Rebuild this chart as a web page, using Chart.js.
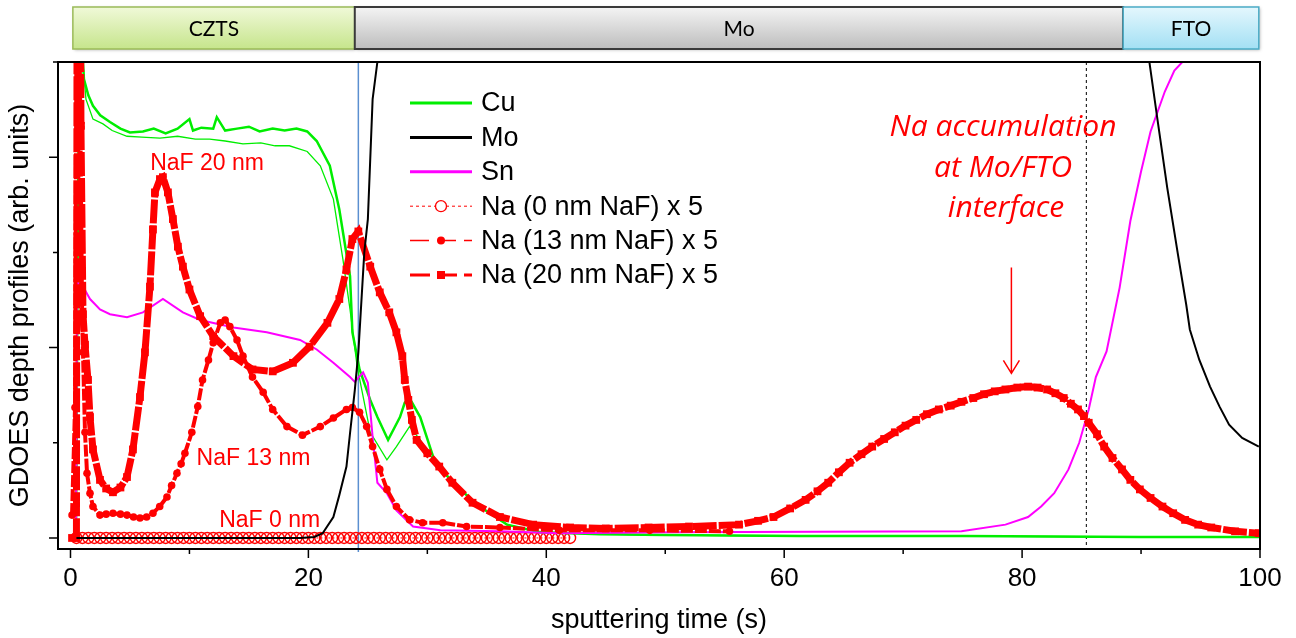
<!DOCTYPE html>
<html>
<head>
<meta charset="utf-8">
<title>GDOES depth profiles</title>
<script src="https://cdn.jsdelivr.net/npm/chart.js@4.4.1/dist/chart.umd.min.js"></script>
<style>
  html, body { margin: 0; padding: 0; background: #fff; }
  #wrap { width: 1296px; height: 638px; }
</style>
</head>
<body>
<div id="wrap"><canvas id="gdoesCanvas" width="1296" height="638"></canvas></div>
<script>
// sputtering time (s) / signal (arb. units, one y tick = 1)
var cuTime = [0.46, 0.63, 0.8, 0.88, 1.13, 1.5, 1.89, 2.5, 3.32, 4.2, 5.0, 6.09, 7.0, 8.0, 9.0, 10.0, 10.3, 11.0, 12.0, 12.3, 13.0, 14.0, 15.0, 15.9, 17.0, 18.0, 19.0, 19.9, 20.7, 21.8, 22.6, 23.5, 23.7, 24.3, 25.2, 25.8, 26.7, 27.2, 27.7, 28.1, 28.5, 29.4, 30.5, 32.1, 34.4, 36.7, 39.5, 44.5, 50, 61.3, 75, 90, 100];
var cuValues = [0, 3.56, 5.0, 5.35, 4.82, 4.65, 4.54, 4.44, 4.37, 4.3, 4.26, 4.27, 4.3, 4.25, 4.3, 4.4, 4.28, 4.31, 4.3, 4.42, 4.28, 4.3, 4.32, 4.27, 4.3, 4.28, 4.3, 4.27, 4.17, 3.91, 3.45, 2.75, 2.16, 1.77, 1.45, 1.27, 1.03, 1.15, 1.27, 1.42, 1.47, 1.27, 0.85, 0.58, 0.33, 0.14, 0.06, 0.04, 0.03, 0.02, 0.02, 0.01, 0.01];

var cu2Time = [0.46, 0.7, 0.8, 1.3, 1.89, 2.73, 3.5, 4.75, 6.0, 7.52, 9.0, 10.5, 11.7, 13.0, 14.5, 16.0, 17.2, 18.4, 19.9, 21.0, 22.1, 22.9, 23.5, 24.1, 25.2, 26.6, 27.4, 28.5, 29.4, 30.5, 32.1, 34.4, 36.7, 39.5, 44.5, 50, 61.3, 75, 90, 100];
var cu2Values = [0, 5.0, 5.35, 4.61, 4.4, 4.35, 4.28, 4.22, 4.21, 4.2, 4.22, 4.19, 4.19, 4.17, 4.14, 4.15, 4.12, 4.12, 4.06, 3.91, 3.56, 2.93, 2.4, 1.8, 1.11, 0.82, 0.96, 1.17, 1.03, 0.82, 0.58, 0.33, 0.14, 0.06, 0.04, 0.03, 0.02, 0.02, 0.01, 0.01];

var moTime = [0.5, 19.3, 20.5, 21.2, 22.1, 22.6, 23.2, 23.5, 23.9, 24.2, 24.7, 25.0, 25.4, 25.8, 26.2, 28, 35, 60, 85, 89.5, 90.5, 90.7, 91.4, 92.2, 93.1, 93.8, 94.1, 94.9, 95.8, 96.6, 97.4, 98.5, 99.9];
var moValues = [0, 0, 0.01, 0.05, 0.22, 0.45, 0.75, 1.1, 1.55, 1.95, 3.0, 3.35, 4.61, 5.0, 5.5, 9, 14, 16, 12, 6.5, 5.24, 5.0, 4.38, 3.68, 2.98, 2.45, 2.19, 1.87, 1.59, 1.38, 1.19, 1.05, 0.96];

var snTime = [0.46, 0.55, 0.97, 1.64, 2.48, 3.32, 4.75, 6.09, 7.77, 9.45, 10.9, 13.7, 16.5, 19.3, 20.7, 22.1, 23.5, 23.9, 24.6, 25.0, 25.4, 25.8, 26.6, 27.4, 28.8, 31.1, 36.1, 41.1, 50.5, 74.9, 78.6, 80.5, 81.6, 82.7, 83.9, 84.8, 85.6, 86.2, 87.1, 88.2, 89.1, 90.0, 90.8, 91.4, 92.0, 92.8, 93.7, 94.9, 100];
var snValues = [0, 2.68, 2.66, 2.51, 2.4, 2.35, 2.32, 2.37, 2.51, 2.37, 2.29, 2.21, 2.16, 2.08, 1.98, 1.84, 1.69, 1.64, 1.74, 1.63, 1.06, 0.58, 0.47, 0.29, 0.12, 0.08, 0.07, 0.05, 0.06, 0.07, 0.14, 0.22, 0.33, 0.47, 0.72, 1.0, 1.35, 1.69, 1.96, 2.63, 3.33, 3.85, 4.27, 4.48, 4.69, 4.91, 5.03, 5.24, 6.0];

var na0Time = [0.5, 1, 1.5, 2, 2.5, 3, 3.5, 4, 4.5, 5, 5.5, 6, 6.5, 7, 7.5, 8, 8.5, 9, 9.5, 10, 10.5, 11, 11.5, 12, 12.5, 13, 13.5, 14, 14.5, 15, 15.5, 16, 16.5, 17, 17.5, 18, 18.5, 19, 19.5, 20, 20.5, 21, 21.5, 22, 22.5, 23, 23.5, 24, 24.5, 25, 25.5, 26, 26.5, 27, 27.5, 28, 28.5, 29, 29.5, 30, 30.5, 31, 31.5, 32, 32.5, 33, 33.5, 34, 34.5, 35, 35.5, 36, 36.5, 37, 37.5, 38, 38.5, 39, 39.5, 40, 40.5, 41, 41.5, 42];
var na0Values = [0, 0, 0, 0, 0, 0, 0, 0, 0, 0, 0, 0, 0, 0, 0, 0, 0, 0, 0, 0, 0, 0, 0, 0, 0, 0, 0, 0, 0, 0, 0, 0, 0, 0, 0, 0, 0, 0, 0, 0, 0, 0, 0, 0, 0, 0, 0, 0, 0, 0, 0, 0, 0, 0, 0, 0, 0, 0, 0, 0, 0, 0, 0, 0, 0, 0, 0, 0, 0, 0, 0, 0, 0, 0, 0, 0, 0, 0, 0, 0, 0, 0, 0, 0];

var na13Time = [0.13, 0.38, 0.5, 0.76, 0.97, 1.05, 1.22, 1.39, 1.64, 1.89, 2.48, 3.0, 3.57, 4.2, 4.75, 5.3, 5.84, 6.4, 6.93, 7.5, 8.11, 8.5, 8.95, 9.3, 9.62, 10.2, 10.7, 11.1, 11.6, 12.0, 12.6, 13.0, 13.4, 14.0, 14.5, 15.3, 16.2, 17.0, 18.2, 19.5, 21.0, 22.1, 23.2, 23.7, 24.3, 24.9, 25.4, 26.0, 26.6, 27.4, 28.5, 29.6, 31.3, 33.3, 36.1, 41.1, 48.7, 55.4];
var na13Values = [0.24, 1.37, 5.3, 5.3, 2.47, 1.95, 1.11, 0.68, 0.47, 0.33, 0.24, 0.25, 0.26, 0.25, 0.24, 0.22, 0.21, 0.22, 0.26, 0.33, 0.43, 0.55, 0.68, 0.78, 0.89, 1.11, 1.38, 1.66, 1.87, 2.05, 2.26, 2.29, 2.22, 2.08, 1.91, 1.69, 1.53, 1.35, 1.17, 1.08, 1.17, 1.26, 1.35, 1.37, 1.32, 1.17, 0.96, 0.72, 0.51, 0.33, 0.19, 0.16, 0.16, 0.12, 0.11, 0.08, 0.08, 0.07];

var na20Time = [0.13, 0.5, 0.55, 0.85, 0.88, 1.05, 1.22, 1.47, 1.64, 1.89, 2.48, 3.0, 3.57, 4.2, 4.75, 5.25, 5.84, 6.26, 6.68, 6.93, 7.1, 7.52, 7.77, 8.19, 8.61, 9.03, 9.45, 10.0, 10.9, 12.0, 13.7, 15.3, 17.0, 18.7, 20.1, 21.6, 22.6, 23.2, 23.7, 24.2, 25.2, 26.0, 26.8, 27.4, 27.9, 28.1, 28.4, 28.7, 29.1, 30.0, 31.0, 32.1, 33.8, 36.1, 38.9, 42.0, 45.0, 48.6, 52.0, 56.2, 57.8, 59.1, 60.5, 61.8, 62.8, 63.7, 64.6, 65.5, 66.5, 67.4, 68.4, 69.3, 70.2, 71.1, 72.0, 73.0, 74.0, 74.9, 75.9, 76.8, 77.7, 78.6, 79.6, 80.5, 81.3, 82.1, 82.8, 83.5, 84.1, 84.7, 85.2, 85.6, 86.3, 86.9, 87.6, 88.4, 89.1, 89.9, 90.8, 91.8, 92.7, 93.7, 94.8, 95.9, 97.9, 99.9];
var na20Values = [0, 0, 5.4, 5.4, 4.33, 2.35, 2.03, 1.66, 1.27, 0.93, 0.61, 0.52, 0.48, 0.53, 0.64, 0.93, 1.48, 1.95, 2.64, 3.24, 3.63, 3.77, 3.79, 3.63, 3.35, 3.06, 2.85, 2.61, 2.33, 2.12, 1.91, 1.77, 1.75, 1.84, 2.01, 2.26, 2.51, 2.82, 3.14, 3.22, 2.85, 2.58, 2.37, 2.16, 1.91, 1.66, 1.45, 1.24, 1.03, 0.89, 0.75, 0.58, 0.37, 0.22, 0.14, 0.11, 0.1, 0.11, 0.12, 0.14, 0.18, 0.22, 0.31, 0.4, 0.49, 0.58, 0.69, 0.79, 0.88, 0.96, 1.04, 1.11, 1.18, 1.24, 1.3, 1.35, 1.39, 1.43, 1.47, 1.51, 1.54, 1.56, 1.58, 1.59, 1.58, 1.56, 1.52, 1.47, 1.41, 1.35, 1.28, 1.21, 1.09, 0.96, 0.84, 0.72, 0.61, 0.51, 0.42, 0.33, 0.26, 0.19, 0.14, 0.11, 0.07, 0.05];

// axis ticks
var xMajorTicks = [0, 20, 40, 60, 80, 100];
var xMinorTicks = [10, 30, 50, 70, 90];
var yMajorTicks = [0, 2, 4];
var yMinorTicks = [1, 3, 5];

// layer stack shown above the plot
var layerNames = ['CZTS', 'Mo', 'FTO'];
var layerStart = [0.2, 23.9, 88.5];
var layerEnd = [23.9, 88.5, 99.9];

// interface markers
var czMoInterface = 24.2;
var moFtoInterface = 85.4;

var RED = '#ff0000';
var FONT = "'Liberation Sans', Arial, sans-serif";

function pts(t, v) {
	var out = [];
	for (var i = 0; i < t.length; i++) {
		out.push({ x: t[i], y: v[i] });
	}
	return out;
}

var layerFill = {
	CZTS: ['#f0f9d8', '#c6e58c', '#9bbb59'],
	Mo: ['#f4f4f4', '#bdbdbd', '#3a3a3a'],
	FTO: ['#e4f7fd', '#a3e0f4', '#4bacc6']
};

var legendItems = [
	{ label: 'Cu', color: '#00ee00', width: 3 },
	{ label: 'Mo', color: '#000000', width: 3 },
	{ label: 'Sn', color: '#ff00ff', width: 3 },
	{ label: 'Na (0 nm NaF) x 5', color: RED, width: 1, dash: [3, 3], point: 'open' },
	{ label: 'Na (13 nm NaF) x 5', color: RED, width: 1.5, dash: [19, 8], point: 'dot' },
	{ label: 'Na (20 nm NaF) x 5', color: RED, width: 3, dash: [20, 7], point: 'square' }
];

var notes = [
	{ text: 'NaF 20 nm', x: 6.7, y: 3.87 },
	{ text: 'NaF 13 nm', x: 10.6, y: 0.77 },
	{ text: 'NaF 0 nm', x: 12.5, y: 0.11 }
];

var overlay = {
	id: 'overlay',
	beforeDatasetsDraw: function (chart) {
		var ctx = chart.ctx, xs = chart.scales.x, a = chart.chartArea;
		ctx.save();
		var xb = xs.getPixelForValue(czMoInterface);
		ctx.strokeStyle = '#5b8fd0';
		ctx.lineWidth = 1.5;
		ctx.beginPath();
		ctx.moveTo(xb, a.top);
		ctx.lineTo(xb, a.bottom + 3);
		ctx.stroke();
		var xd = xs.getPixelForValue(moFtoInterface);
		ctx.strokeStyle = '#000';
		ctx.lineWidth = 1;
		ctx.setLineDash([3, 3]);
		ctx.beginPath();
		ctx.moveTo(xd, a.top);
		ctx.lineTo(xd, a.bottom);
		ctx.stroke();
		ctx.restore();
	},
	afterDraw: function (chart) {
		var ctx = chart.ctx, xs = chart.scales.x, ys = chart.scales.y, a = chart.chartArea;
		var i, p;
		ctx.save();

		// frame
		ctx.strokeStyle = '#000';
		ctx.lineWidth = 2;
		ctx.strokeRect(a.left, a.top, a.right - a.left, a.bottom - a.top);

		// tick marks
		ctx.lineWidth = 1.5;
		ctx.beginPath();
		for (i = 0; i < xMajorTicks.length; i++) {
			p = xs.getPixelForValue(xMajorTicks[i]);
			ctx.moveTo(p, a.bottom); ctx.lineTo(p, a.bottom + 9);
		}
		for (i = 0; i < xMinorTicks.length; i++) {
			p = xs.getPixelForValue(xMinorTicks[i]);
			ctx.moveTo(p, a.bottom); ctx.lineTo(p, a.bottom + 5);
		}
		for (i = 0; i < yMajorTicks.length; i++) {
			p = ys.getPixelForValue(yMajorTicks[i]);
			ctx.moveTo(a.left, p); ctx.lineTo(a.left - 9, p);
		}
		for (i = 0; i < yMinorTicks.length; i++) {
			p = ys.getPixelForValue(yMinorTicks[i]);
			ctx.moveTo(a.left, p); ctx.lineTo(a.left - 5, p);
		}
		ctx.stroke();

		// layer boxes
		var bTop = a.top - 55, bH = 42;
		for (i = 0; i < layerNames.length; i++) {
			var x0 = xs.getPixelForValue(layerStart[i]);
			var x1 = xs.getPixelForValue(layerEnd[i]);
			var c = layerFill[layerNames[i]];
			var g = ctx.createLinearGradient(0, bTop, 0, bTop + bH);
			g.addColorStop(0, c[0]);
			g.addColorStop(1, c[1]);
			ctx.save();
			ctx.shadowColor = 'rgba(0,0,0,0.3)';
			ctx.shadowBlur = 3;
			ctx.shadowOffsetX = 1;
			ctx.shadowOffsetY = 1;
			ctx.fillStyle = g;
			ctx.fillRect(x0, bTop, x1 - x0, bH);
			ctx.restore();
			ctx.strokeStyle = c[2];
			ctx.lineWidth = layerNames[i] === 'Mo' ? 2 : 1.5;
			ctx.strokeRect(x0, bTop, x1 - x0, bH);
			ctx.fillStyle = '#000';
			ctx.font = "21px Lato, 'Open Sans', sans-serif";
			ctx.textAlign = 'center';
			ctx.textBaseline = 'middle';
			ctx.fillText(layerNames[i], (x0 + x1) / 2, bTop + bH / 2 + 1);
		}

		// legend
		var lx0 = a.left + 352, lx1 = a.left + 414, ly = a.top + 41;
		ctx.font = '27px ' + FONT;
		ctx.textAlign = 'left';
		ctx.textBaseline = 'middle';
		for (i = 0; i < legendItems.length; i++) {
			var it = legendItems[i];
			var y = ly + i * 34.4;
			ctx.strokeStyle = it.color;
			ctx.lineWidth = it.width;
			ctx.setLineDash(it.dash || []);
			ctx.beginPath();
			ctx.moveTo(lx0, y); ctx.lineTo(lx1, y);
			ctx.stroke();
			ctx.setLineDash([]);
			var cx = (lx0 + lx1) / 2;
			if (it.point === 'open') {
				ctx.fillStyle = '#fff';
				ctx.lineWidth = 1.3;
				ctx.beginPath(); ctx.arc(cx, y, 5.5, 0, Math.PI * 2); ctx.fill(); ctx.stroke();
			} else if (it.point === 'dot') {
				ctx.fillStyle = it.color;
				ctx.beginPath(); ctx.arc(cx, y, 4, 0, Math.PI * 2); ctx.fill();
			} else if (it.point === 'square') {
				ctx.fillStyle = it.color;
				ctx.fillRect(cx - 4, y - 4, 8, 8);
			}
			ctx.fillStyle = '#000';
			ctx.fillText(it.label, lx1 + 9, y + 1);
		}

		// sample labels
		ctx.fillStyle = RED;
		ctx.font = '23px ' + FONT;
		ctx.textBaseline = 'alphabetic';
		ctx.textAlign = 'left';
		for (i = 0; i < notes.length; i++) {
			ctx.fillText(notes[i].text, xs.getPixelForValue(notes[i].x), ys.getPixelForValue(notes[i].y));
		}

		// Mo/FTO note and arrow
		ctx.font = "italic 30px 'Open Sans', sans-serif";
		ctx.textAlign = 'center';
		var nx = xs.getPixelForValue(78.4);
		ctx.fillText('Na accumulation', nx, ys.getPixelForValue(4.22));
		ctx.fillText('at Mo/FTO', nx, ys.getPixelForValue(3.79));
		ctx.fillText('interface', nx + 3, ys.getPixelForValue(3.37));

		var ax = xs.getPixelForValue(79.1);
		var ay0 = ys.getPixelForValue(2.84), ay1 = ys.getPixelForValue(1.73);
		ctx.strokeStyle = RED;
		ctx.lineWidth = 1.5;
		ctx.beginPath();
		ctx.moveTo(ax, ay0); ctx.lineTo(ax, ay1);
		ctx.moveTo(ax - 8, ay1 - 13); ctx.lineTo(ax, ay1); ctx.lineTo(ax + 8, ay1 - 13);
		ctx.stroke();

		ctx.restore();
	}
};

var chartdata = {
	datasets: [
		{
			label: 'Cu', data: pts(cuTime, cuValues), showLine: true,
			borderColor: '#00ee00', borderWidth: 2.5, pointRadius: 0, order: 5
		},
		{
			label: 'Cu (13 nm)', data: pts(cu2Time, cu2Values), showLine: true,
			borderColor: '#00ee00', borderWidth: 1.3, pointRadius: 0, order: 6
		},
		{
			label: 'Mo', data: pts(moTime, moValues), showLine: true,
			borderColor: '#000000', borderWidth: 2, pointRadius: 0, order: 1
		},
		{
			label: 'Sn', data: pts(snTime, snValues), showLine: true,
			borderColor: '#ff00ff', borderWidth: 2, pointRadius: 0, order: 4
		},
		{
			label: 'Na (0 nm NaF) x 5', data: pts(na0Time, na0Values), showLine: true,
			borderColor: RED, borderWidth: 1, borderDash: [2, 2],
			pointStyle: 'circle', pointRadius: 5.5, pointBorderWidth: 1.4,
			pointBorderColor: RED, pointBackgroundColor: 'rgba(255,255,255,0)', order: 7
		},
		{
			label: 'Na (13 nm NaF) x 5', data: pts(na13Time, na13Values), showLine: true,
			borderColor: RED, borderWidth: 4, borderDash: [12, 2],
			pointStyle: 'circle', pointRadius: 3.8, pointBorderWidth: 0,
			pointBackgroundColor: RED, order: 3
		},
		{
			label: 'Na (20 nm NaF) x 5', data: pts(na20Time, na20Values), showLine: true,
			borderColor: RED, borderWidth: 7, borderDash: [24, 2],
			pointStyle: 'rect', pointRadius: 5.5, pointBorderWidth: 0,
			pointBackgroundColor: RED, order: 2
		}
	]
};

var graphTarget = document.getElementById('gdoesCanvas');

var depthChart = new Chart(graphTarget, {
	type: 'scatter',
	data: chartdata,
	plugins: [overlay],
	options: {
		responsive: false,
		animation: false,
		events: [],
		layout: { padding: { left: 0, right: 36, top: 62, bottom: 0 } },
		plugins: {
			legend: { display: false },
			tooltip: { enabled: false }
		},
		scales: {
			x: {
				type: 'linear',
				min: -1.05,
				max: 100,
				grid: { display: false, drawTicks: false, tickLength: 0 },
				border: { display: false },
				ticks: {
					stepSize: 20,
					includeBounds: false,
					maxRotation: 0,
					padding: 14,
					color: '#000',
					font: { family: FONT, size: 26 }
				},
				title: {
					display: true,
					text: 'sputtering time (s)',
					color: '#000',
					font: { family: FONT, size: 27 },
					padding: { top: 0, bottom: 1 }
				},
				afterFit: function (scale) { scale.height = 89; }
			},
			y: {
				type: 'linear',
				min: -0.116,
				max: 5.0,
				grid: { display: false, drawTicks: false, tickLength: 0 },
				border: { display: false },
				ticks: { display: false },
				title: {
					display: true,
					text: 'GDOES depth profiles (arb. units)',
					color: '#000',
					font: { family: FONT, size: 27 },
					padding: { top: 4, bottom: 0 }
				},
				afterFit: function (scale) { scale.width = 58; }
			}
		}
	}
});
</script>
</body>
</html>
